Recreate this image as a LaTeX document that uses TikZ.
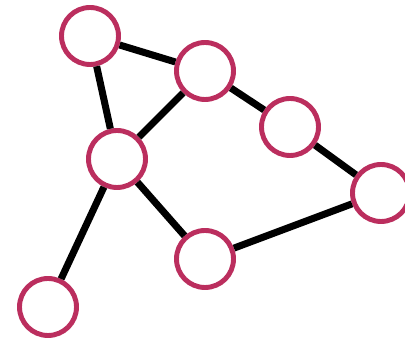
\documentclass[tikz,border=0pt]{standalone}
\usepackage{tikz}

\definecolor{vtxred}{RGB}{187,46,94}

\begin{document}
\begin{tikzpicture}[
	vtx/.style={circle, draw=vtxred, line width=3.5pt, fill=white, minimum size=14.25mm, inner sep=0pt},
	edge/.style={line width=5pt, black}]
	\useasboundingbox (0,0) rectangle (10.125,8.5);
	\node[vtx] (a) at (2.25,7.6) {};
	\node[vtx] (b) at (5.125,6.725) {};
	\node[vtx] (c) at (2.925,4.525) {};
	\node[vtx] (d) at (7.25,5.325) {};
	\node[vtx] (e) at (9.525,3.675) {};
	\node[vtx] (f) at (5.125,2.025) {};
	\node[vtx] (g) at (1.2,0.825) {};
	\draw[edge] (a) -- (b);
	\draw[edge] (a) -- (c);
	\draw[edge] (b) -- (c);
	\draw[edge] (b) -- (d);
	\draw[edge] (d) -- (e);
	\draw[edge] (e) -- (f);
	\draw[edge] (c) -- (f);
	\draw[edge] (c) -- (g);
\end{tikzpicture}
\end{document}
